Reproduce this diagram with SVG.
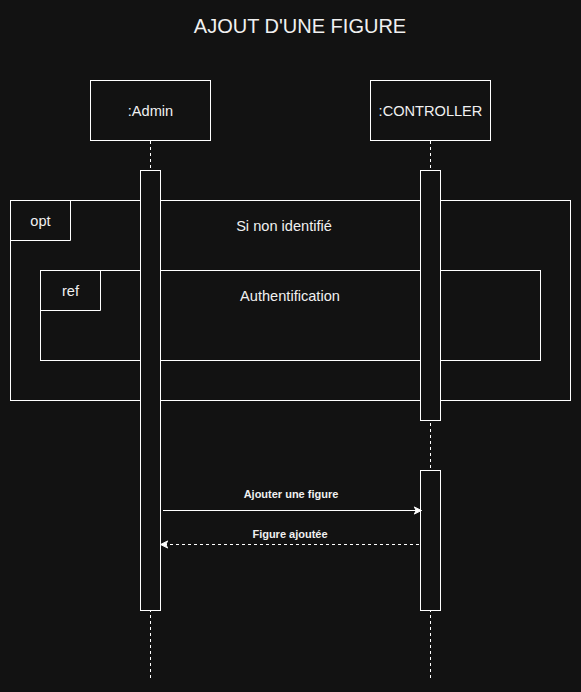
<svg xmlns="http://www.w3.org/2000/svg" width="581" height="692" viewBox="0 0 581 692">
<style>
.bx{fill:#121212;stroke:#ffffff;stroke-width:1}
.fr{fill:none;stroke:#ffffff;stroke-width:1}
.ll{stroke:#ffffff;stroke-width:1;stroke-dasharray:3 3;fill:none}
.t{font-family:"Liberation Sans",Arial,sans-serif;fill:#f0f0f0;text-anchor:middle}
.m{font-family:"Liberation Sans",Arial,sans-serif;fill:#f0f0f0;text-anchor:middle;font-size:11px;font-weight:bold}
.msg{stroke:#ffffff;stroke-width:1;fill:none}
</style>
<defs>
<marker id="ah" viewBox="0 0 10 10" refX="9" refY="5" markerWidth="9" markerHeight="9" markerUnits="userSpaceOnUse" orient="auto">
<path d="M1,1 L9,5 L1,9 L3,5 Z" fill="#ffffff" stroke="#ffffff" stroke-width="1"/>
</marker>
</defs>
<rect x="0" y="0" width="581" height="692" fill="#121212"/>
<text class="t" x="300" y="33" font-size="20">AJOUT D'UNE FIGURE</text>
<g id="lifelines">
<line class="ll" x1="150.5" y1="141" x2="150.5" y2="680"/>
<line class="ll" x1="430.5" y1="141" x2="430.5" y2="680"/>
</g>
<g id="node-admin">
<rect class="bx" x="90.5" y="80.5" width="120" height="60"/>
<text class="t" x="150.5" y="115.5" font-size="14.6">:Admin</text>
</g>
<g id="node-controller">
<rect class="bx" x="370.5" y="80.5" width="120" height="60"/>
<text class="t" x="430.5" y="115.5" font-size="14.6">:CONTROLLER</text>
</g>
<g id="frame-opt">
<rect class="fr" x="10.5" y="200.5" width="560" height="200"/>
<path class="fr" d="M10.5,240.5 H70.5 V200.5"/>
<text class="t" x="40.5" y="226" font-size="14.6">opt</text>
<text class="t" x="284" y="231" font-size="14.6">Si non identifié</text>
</g>
<g id="frame-ref">
<rect class="fr" x="40.5" y="270.5" width="500" height="90"/>
<path class="fr" d="M40.5,310.5 H100.5 V270.5"/>
<text class="t" x="70.5" y="296" font-size="14.6">ref</text>
<text class="t" x="290" y="301" font-size="14.6">Authentification</text>
</g>
<g id="activations">
<rect class="bx" x="140.5" y="170.5" width="20" height="440"/>
<rect class="bx" x="420.5" y="170.5" width="20" height="250"/>
<rect class="bx" x="420.5" y="470.5" width="20" height="140"/>
</g>
<g id="connectors">
<line class="msg" x1="163" y1="510.5" x2="421.5" y2="510.5" marker-end="url(#ah)"/>
<text class="m" x="291" y="498">Ajouter une figure</text>
<line class="msg" x1="419" y1="544.5" x2="160.5" y2="544.5" stroke-dasharray="3 3" marker-end="url(#ah)"/>
<text class="m" x="290" y="538">Figure ajoutée</text>
</g>
</svg>
